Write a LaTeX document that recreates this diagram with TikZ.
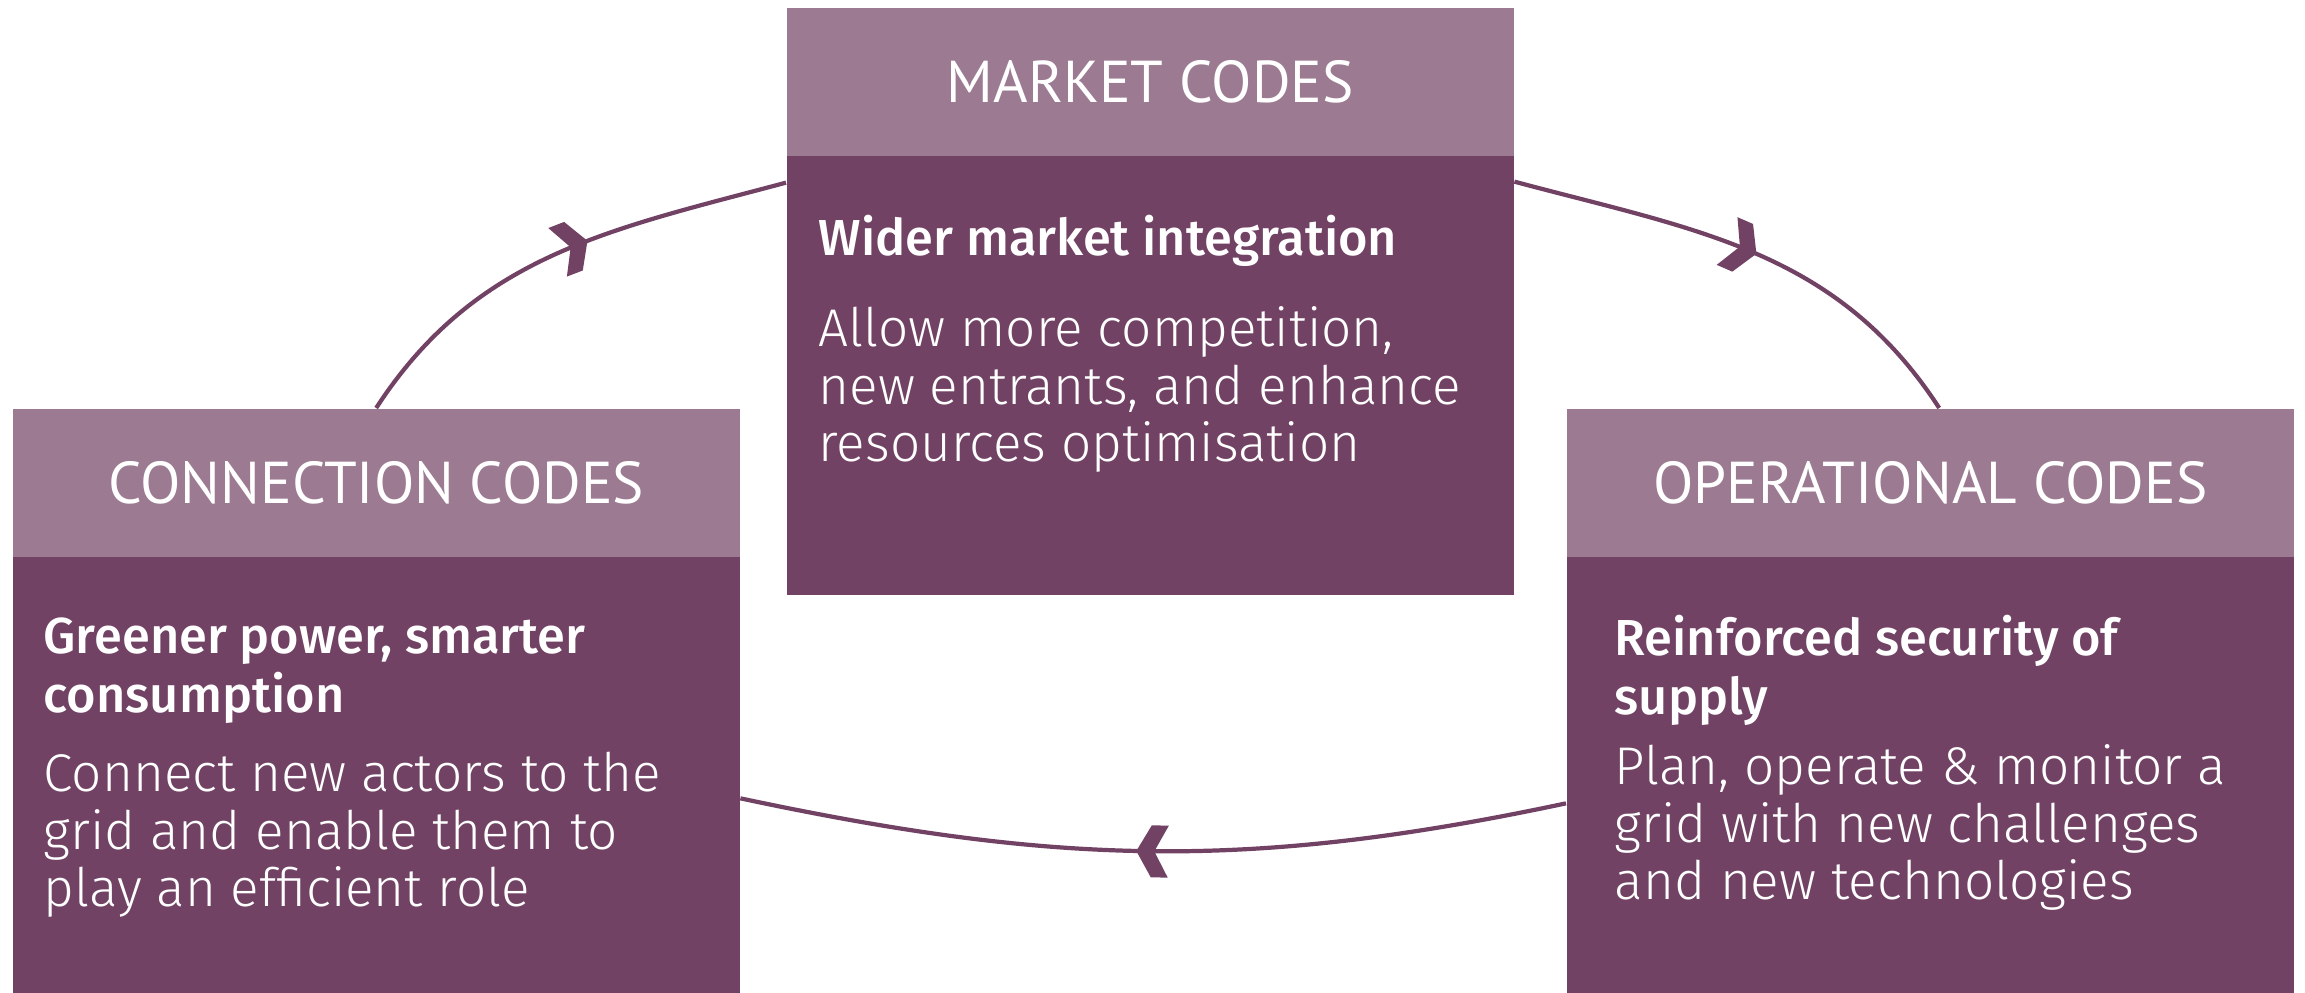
\documentclass[tikz,border=0pt]{standalone}
\usepackage{fontspec}
\setmainfont{PT Sans}
\newfontfamily\lightfont{Fira Sans Light}
\newfontfamily\subfont{Fira Sans Medium}
\usetikzlibrary{decorations.markings}
\definecolor{headpurple}{HTML}{9C7B92}
\definecolor{bodypurple}{HTML}{714264}
\tikzset{
  codehead/.style={fill=headpurple, minimum width=7.27cm, minimum height=1.49cm, inner sep=0, anchor=north west},
  codebody/.style={fill=bodypurple, minimum width=7.27cm, inner sep=0, anchor=north west},
  codetitle/.style={text=white, font=\fontsize{16.8}{19}\selectfont},
  codesub/.style={text=white, font=\subfont\fontsize{14.4}{16.9}\selectfont, align=left, inner sep=0, anchor=base west},
  codetext/.style={text=white, font=\lightfont\fontsize{15.1}{16.5}\selectfont, align=left, inner sep=0, anchor=base west},
  cycleline/.style={draw=bodypurple, line width=1.2pt},
  chevron/.style={decoration={markings, mark=at position #1 with {\fill[bodypurple] (0,0) -- (-0.15,0.26) -- (-0.32,0.26) -- (-0.18,0) -- (-0.32,-0.26) -- (-0.15,-0.26) -- cycle;}}, postaction={decorate}},
}
\begin{document}
\begin{tikzpicture}
  \useasboundingbox (0,0) rectangle (23.05,9.93);

  % Market codes
  \node[codehead] (markethead) at (7.86,9.86) {};
  \node[codebody, minimum height=4.39cm] (marketbody) at ([yshift=0.5pt]markethead.south west) {};
  \node[codetitle] (markettitle) at (markethead.center) {MARKET CODES};
  \node[codesub] (marketsub) at (8.18,7.37) {Wider market integration};
  \node[codetext] (markettext) at (8.18,5.31) {Allow more competition,\\new entrants, and enhance\\resources optimisation};

  % Connection codes
  \node[codehead] (connhead) at (0.12,5.85) {};
  \node[codebody, minimum height=4.36cm] (connbody) at ([yshift=0.5pt]connhead.south west) {};
  \node[codetitle] (conntitle) at (connhead.center) {CONNECTION CODES};
  \node[codesub] (connsub) at (0.43,2.80) {Greener power, smarter\\consumption};
  \node[codetext] (conntext) at (0.43,0.86) {Connect new actors to the\\grid and enable them to\\play an efficient role};

  % Operational codes
  \node[codehead] (operhead) at (15.66,5.85) {};
  \node[codebody, minimum height=4.36cm] (operbody) at ([yshift=0.5pt]operhead.south west) {};
  \node[codetitle] (opertitle) at (operhead.center) {OPERATIONAL CODES};
  \node[codesub] (opersub) at (16.14,2.78) {Reinforced security of\\supply};
  \node[codetext] (opertext) at (16.14,0.93) {Plan, operate \& monitor a\\grid with new challenges\\and new technologies};

  % Cycle
  \draw[cycleline, chevron=0.57] (connhead.north) to[out=57,in=195] ([yshift=-2.7mm]marketbody.north west);
  \draw[cycleline, chevron=0.51] ([yshift=-2.6mm]marketbody.north east) to[out=-15,in=123] ([xshift=0.9mm]operhead.north);
  \draw[cycleline, chevron=0.52] ([yshift=-2.8mm]operbody.west) to[out=192,in=-12] ([yshift=-2.3mm]connbody.east);
\end{tikzpicture}
\end{document}
